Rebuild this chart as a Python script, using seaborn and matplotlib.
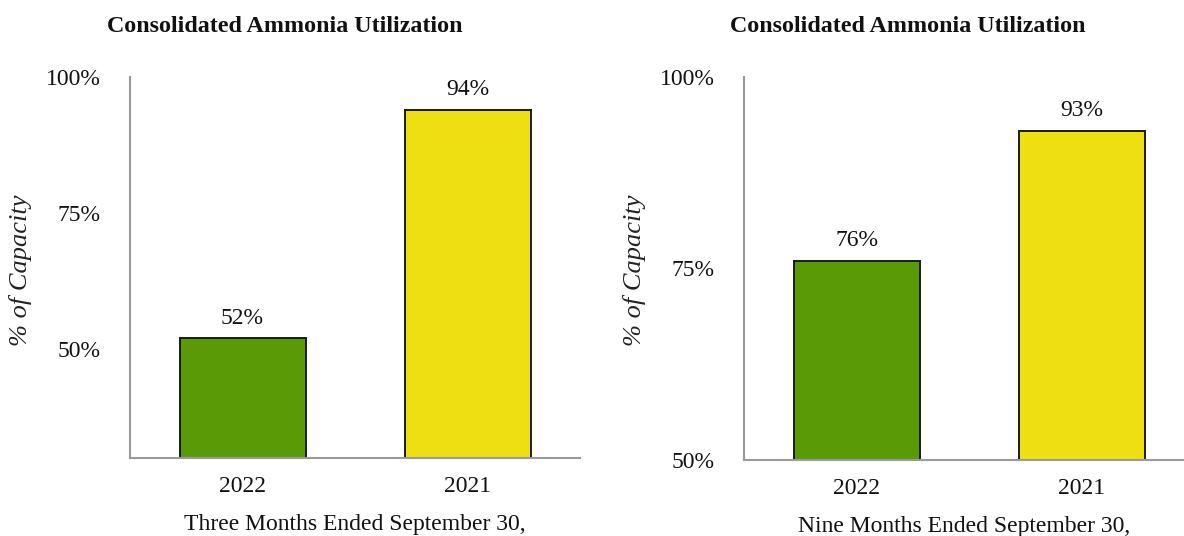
import matplotlib
matplotlib.use("Agg")
import matplotlib.pyplot as plt
import seaborn as sns
import pandas as pd

sns.set_theme(style="white")
plt.rcParams["font.family"] = ["Liberation Serif", "DejaVu Serif"]

title = "Consolidated Ammonia Utilization"
years = ["2022", "2021"]
three_month_util = [52, 94]
nine_month_util = [76, 93]
bar_colors = ["#5B9A07", "#EEDF13"]

W, H = 1184, 536
fig = plt.figure(figsize=(W / 100, H / 100), dpi=100)


def px_axes(x0, y0, x1, y1):
    return fig.add_axes([x0 / W, (H - y1) / H, (x1 - x0) / W, (y1 - y0) / H])


panels = [
    dict(box=(130, 77, 580, 458), vals=three_month_util, ylim=(30, 100),
         ticks=[50, 75, 100], xlabel="Three Months Ended September 30,",
         xlim=(-0.5, 1.5), title_x=285, ylab_x=21, ylab_y=270),
    dict(box=(744, 77, 1184, 460), vals=nine_month_util, ylim=(50, 100),
         ticks=[50, 75, 100], xlabel="Nine Months Ended September 30,",
         xlim=(-0.5, 1.453), title_x=908, ylab_x=635, ylab_y=270),
]

for p in panels:
    ax = px_axes(*p["box"])
    df = pd.DataFrame({"year": years, "util": p["vals"]})
    sns.barplot(data=df, x="year", y="util", hue="year", order=years,
                hue_order=years, palette=bar_colors, legend=False,
                width=0.56, edgecolor="#1a1a1a", linewidth=1.4, ax=ax,
                saturation=1)
    ax.set_ylim(*p["ylim"])
    ax.set_xlim(*p["xlim"])
    ax.set_yticks(p["ticks"])
    ax.set_yticklabels([f"{t}%" for t in p["ticks"]])
    ax.tick_params(axis="both", length=0, labelsize=17, colors="#111111")
    ax.tick_params(axis="y", pad=21)
    ax.tick_params(axis="x", pad=13)
    for s in ["top", "right"]:
        ax.spines[s].set_visible(False)
    for s in ["left", "bottom"]:
        ax.spines[s].set_color("#9a9a9a")
        ax.spines[s].set_linewidth(1.5)
    ax.set_xlabel(p["xlabel"], fontsize=17, color="#111111", labelpad=12)
    ax.set_ylabel("")
    fig.text(p["ylab_x"] / W, 1 - p["ylab_y"] / H, "% of Capacity",
             rotation=90, ha="center", va="center", fontsize=19,
             style="italic", color="#222222")
    for i, v in enumerate(p["vals"]):
        ax.annotate(f"{v}%", (i, v), xytext=(0, 7), textcoords="offset points",
                    ha="center", va="bottom", fontsize=17, color="#111111")
    fig.text(p["title_x"] / W, 1 - 26 / H, title, ha="center", va="center",
             fontsize=17.3, fontweight="bold", color="#111111")

fig.savefig("out.png", dpi=100)
